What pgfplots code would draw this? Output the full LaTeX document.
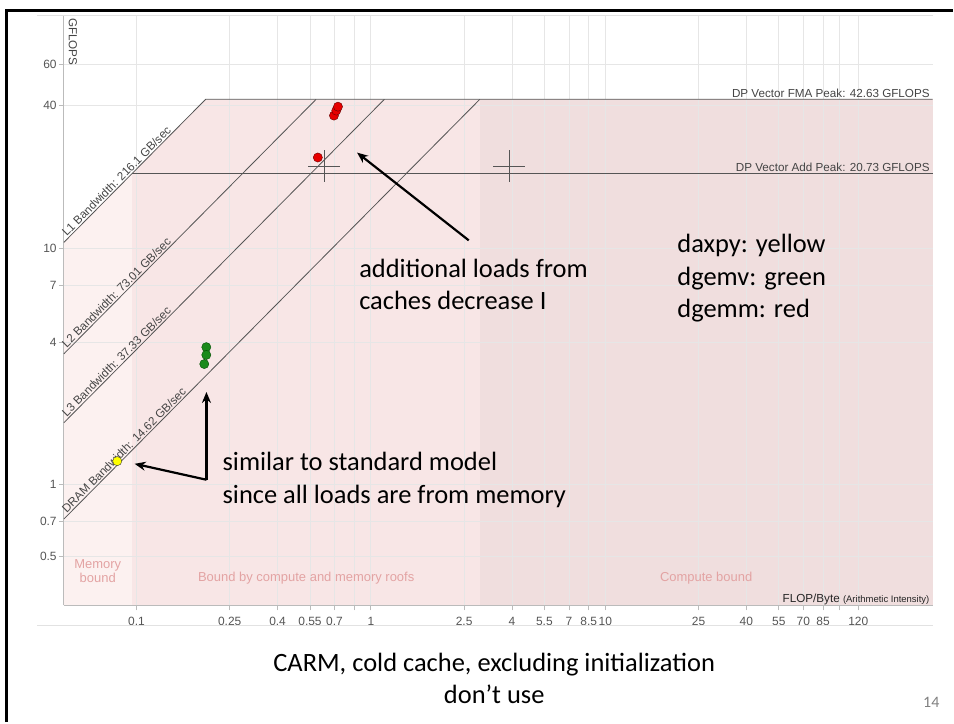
\documentclass[border=0pt]{standalone}
\usepackage{pgfplots}
\pgfplotsset{compat=1.18}
\usepackage{fontspec}
\setmainfont{Liberation Sans}
\newfontfamily\slidefont{Carlito}
\usetikzlibrary{arrows.meta}

\definecolor{memfill}{HTML}{FCF1F0}
\definecolor{midfill}{HTML}{F8E6E6}
\definecolor{compfill}{HTML}{F0DEDE}
\definecolor{roof}{HTML}{555555}
\definecolor{gridc}{HTML}{E6E6E6}
\definecolor{axisc}{HTML}{BBBBBB}
\definecolor{ticktext}{HTML}{555555}
\definecolor{labtext}{HTML}{444444}
\definecolor{regiontext}{HTML}{E3A3A3}
\definecolor{framec}{HTML}{E2E2E2}
\definecolor{dgemmred}{HTML}{E60000}
\definecolor{dgemvgreen}{HTML}{1B8A1B}
\definecolor{daxpyyellow}{HTML}{FFFF00}

\newcommand{\pxfont}[1]{\fontsize{#1}{#1}\selectfont}

\begin{document}
\begin{tikzpicture}
\begin{scope}[x=1pt,y=-1pt]
  \path[use as bounding box] (0,0) rectangle (954,723);
  % container lines of the chart
  \draw[framec, line width=1pt] (37,16) -- (935,16);
  \draw[framec, line width=1pt] (37,627.5) -- (935,627.5);
\end{scope}

\begin{axis}[
  set layers,
  at={(64pt,-607pt)}, anchor=south west,
  scale only axis, width=871pt, height=591pt,
  xmode=log, ymode=log,
  xmin=0.049, xmax=249, ymin=0.309, ymax=96,
  axis x line=bottom, axis y line=left,
  axis line style={-, draw=axisc, line width=1pt},
  xtick={0.1,0.25,0.4,0.55,0.7,0.85,1,2.5,4,5.5,7,8.5,10,25,40,55,70,85,100,120},
  xticklabels={0.1,0.25,0.4,0.55,0.7,,1,2.5,4,5.5,7,8.5,10,25,40,55,70,85,,120},
  ytick={0.5,0.7,1,4,7,10,40,60},
  yticklabels={0.5,0.7,1,4,7,10,40,60},
  xminorticks=false, yminorticks=false,
  grid=major, major grid style={draw=gridc, line width=0.8pt},
  tick style={draw=axisc, line width=0.8pt},
  major tick length=5pt, tick align=outside,
  tick label style={font=\pxfont{12}, text=ticktext},
  xticklabel style={inner sep=0pt, text height=8.6pt, text depth=0pt, anchor=north, yshift=-6.5pt},
  yticklabel style={inner sep=2pt},
  clip=false,
]
% shaded regions under the roofline
\addplot[on layer=axis background, fill=memfill, draw=none]
  coordinates {(0.049,0.309) (0.049,10.589) (0.095928,20.73) (0.095928,0.309)} -- cycle;
\addplot[on layer=axis background, fill=midfill, draw=none]
  coordinates {(0.095928,0.309) (0.095928,20.73) (0.19727,42.63) (2.91587,42.63) (2.91587,0.309)} -- cycle;
\addplot[on layer=axis background, fill=compfill, draw=none]
  coordinates {(2.91587,0.309) (2.91587,42.63) (249,42.63) (249,0.309)} -- cycle;

% memory roofs and compute roofs
\addplot[roof, line width=0.8pt] coordinates {(0.049,10.589) (0.19727,42.63) (249,42.63)};
\addplot[roof, line width=0.8pt] coordinates {(0.095928,20.73) (249,20.73)};
\addplot[roof, line width=0.8pt] coordinates {(0.049,3.5775) (0.58389,42.63)};
\addplot[roof, line width=0.8pt] coordinates {(0.049,1.8292) (1.14198,42.63)};
\addplot[roof, line width=0.8pt] coordinates {(0.049,0.71638) (2.91587,42.63)};

\begin{scope}[every node/.style={rotate=45.2, anchor=south west, inner sep=1.5pt,
    font=\pxfont{11.7}, text=labtext}]
  \node at (axis cs:0.0505,10.913) {L1 Bandwidth: 216.1 GB/sec};
  \node at (axis cs:0.0505,3.687) {L2 Bandwidth: 73.01 GB/sec};
  \node at (axis cs:0.0505,1.885) {L3 Bandwidth: 37.33 GB/sec};
  \node at (axis cs:0.0505,0.7383) {DRAM Bandwidth: 14.62 GB/sec};
\end{scope}
\node[anchor=south east, inner sep=1.5pt, font=\pxfont{11.7}, text=labtext]
  at (axis cs:246,42.63) {DP Vector FMA Peak: 42.63 GFLOPS};
\node[anchor=south east, inner sep=1.5pt, font=\pxfont{11.7}, text=labtext]
  at (axis cs:246,20.73) {DP Vector Add Peak: 20.73 GFLOPS};

% crosshair markers
\addplot[only marks, mark=+, mark size=16pt, roof, line width=0.9pt]
  coordinates {(0.631,22.2) (3.90,22.2)};

% measured kernels
\addplot[only marks, mark=*, mark size=4.6pt, draw=black!60!red, fill=dgemmred]
  coordinates {(0.594,24.2) (0.696,36.4) (0.712,38.2) (0.724,39.7)};
\addplot[only marks, mark=*, mark size=4.6pt, draw=black!70!green, fill=dgemvgreen]
  coordinates {(0.1986,3.82) (0.1986,3.54) (0.1947,3.24)};
\addplot[only marks, mark=*, mark size=4.6pt, draw=black!80, fill=daxpyyellow]
  coordinates {(0.0828,1.259)};
\end{axis}

\begin{scope}[x=1pt,y=-1pt]
  % slide frame
  \draw[black, line width=3pt] (6.5,724) -- (6.5,11) -- (955,11);
  % axis titles
  \node[rotate=-90, anchor=west, inner sep=0pt, font=\pxfont{11.7}, text=labtext] at (73,18) {GFLOPS};
  \node[anchor=base east, inner sep=0pt, text=black!85] at (932,604)
    {\pxfont{11.7}FLOP/Byte \pxfont{9.5}(Arithmetic Intensity)};
  % region captions
  \node[align=center, font=\pxfont{13}, text=regiontext, inner sep=0pt] at (98,573) {Memory\\[1pt]bound};
  \node[font=\pxfont{13}, text=regiontext, inner sep=0pt] at (307,580) {Bound by compute and memory roofs};
  \node[font=\pxfont{13}, text=regiontext, inner sep=0pt] at (708,580) {Compute bound};

  % slide annotations
  \draw[-{Stealth[length=11pt,width=9pt]}, line width=2.2pt] (470,241) -- (358,153);
  \draw[-{Stealth[length=11pt,width=9pt]}, line width=2.2pt] (207,481) -- (207,393);
  \draw[-{Stealth[length=11pt,width=9pt]}, line width=2.2pt] (207,481) -- (135,465);
  \begin{scope}[every node/.style={anchor=base west, inner sep=0pt, font=\slidefont\pxfont{26.5}}]
    \node at (360,278) {additional loads from};
    \node at (360,310) {caches decrease I};
    \node at (679,253) {daxpy: yellow};
    \node at (679,286) {dgemv: green};
    \node at (679,318) {dgemm: red};
    \node at (223,472) {similar to standard model};
    \node at (223,505) {since all loads are from memory};
  \end{scope}
  \node[anchor=base, inner sep=0pt, font=\slidefont\pxfont{26.5}] at (495.5,673) {CARM, cold cache, excluding initialization};
  \node[anchor=base, inner sep=0pt, font=\slidefont\pxfont{26.5}] at (495.5,705) {don’t use};
  \node[anchor=base east, inner sep=0pt, font=\slidefont\pxfont{16}, text=black!50] at (942,709) {14};
\end{scope}
\end{tikzpicture}
\end{document}
